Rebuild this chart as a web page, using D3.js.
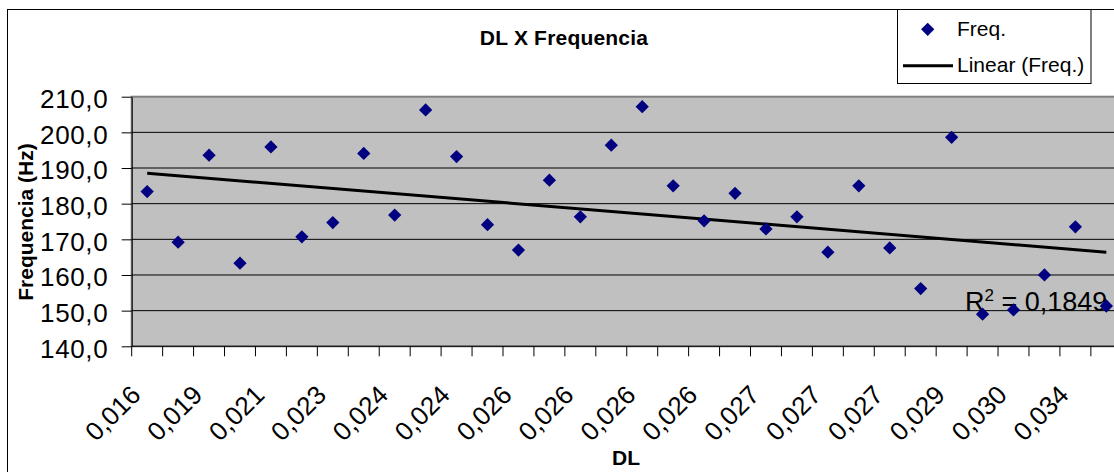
<!DOCTYPE html>
<html>
<head>
<meta charset="utf-8">
<script src="https://cdn.jsdelivr.net/npm/d3@7"></script>
<style>
body { margin: 0; background: #fff; }
text { font-family: "Liberation Sans", Arial, sans-serif; fill: #000; }
</style>
</head>
<body>
<svg id="chart" width="1114" height="472"></svg>
<script>
// DL values per point (only every other one is printed on the axis)
var categories = ["0,016","0,018","0,019","0,020","0,021","0,022","0,023","0,023",
  "0,024","0,024","0,024","0,025","0,026","0,026","0,026","0,026",
  "0,026","0,026","0,026","0,026","0,027","0,027","0,027","0,027",
  "0,027","0,028","0,029","0,029","0,030","0,031","0,034","0,036"];
var freq = [183.4, 169.2, 193.6, 163.3, 195.9, 170.7, 174.7, 194.1,
  176.8, 206.3, 193.2, 174.1, 167.0, 186.6, 176.3, 196.4,
  207.2, 185.0, 175.2, 182.9, 172.9, 176.3, 166.4, 185.0,
  167.6, 156.2, 198.6, 149.0, 150.2, 160.0, 173.5, 151.3];
var yTicks = [140, 150, 160, 170, 180, 190, 200, 210];
var chartTitle = "DL X Frequencia";
var xTitle = "DL";
var yTitle = "Frequencia (Hz)";
var seriesName = "Freq.";
var trendName = "Linear (Freq.)";
var r2Label = "0,1849";

var svg = d3.select("#chart");
var plot = {left: 131.7, top: 96.7, right: 1121.8, bottom: 346.3};

var x = d3.scaleBand().domain(d3.range(categories.length)).range([plot.left, plot.right]);
var y = d3.scaleLinear().domain([140, 210]).range([plot.bottom, plot.top]);
var bw = x.bandwidth();
var cx = function(i) { return x(i) + bw / 2; };
var comma = function(v) { return d3.format(".1f")(v).replace(".", ","); };

// chart area border
svg.append("rect")
  .attr("x", 7.5).attr("y", 9.5)
  .attr("width", 1300).attr("height", 600)
  .attr("fill", "#fff").attr("stroke", "#000").attr("stroke-width", 1);

// plot area
svg.append("rect")
  .attr("x", plot.left).attr("y", plot.top)
  .attr("width", plot.right - plot.left).attr("height", plot.bottom - plot.top)
  .attr("fill", "#c0c0c0").attr("stroke", "#808080").attr("stroke-width", 2);

// gridlines
svg.append("g").selectAll("line")
  .data(yTicks.slice(1, -1))
  .enter().append("line")
  .attr("x1", plot.left).attr("x2", plot.right)
  .attr("y1", function(d) { return y(d); })
  .attr("y2", function(d) { return y(d); })
  .attr("stroke", "#000").attr("stroke-width", 1);

// y axis
var yAxis = d3.axisLeft(y)
  .tickValues(yTicks)
  .tickSize(10)
  .tickSizeOuter(0)
  .tickPadding(13.5)
  .tickFormat(comma);

var gy = svg.append("g")
  .attr("transform", "translate(" + plot.left + ",0)")
  .call(yAxis);
gy.select(".domain").attr("stroke", "#000");
gy.selectAll(".tick line").attr("stroke", "#000");
gy.selectAll(".tick text")
  .attr("font-family", "Liberation Sans, Arial, sans-serif")
  .attr("font-size", "26px")
  .attr("letter-spacing", "0.6px")
  .attr("dy", "0.42em")
  .attr("fill", "#000");

// x axis line + tick marks at category boundaries
svg.append("line")
  .attr("x1", plot.left).attr("x2", plot.right)
  .attr("y1", plot.bottom).attr("y2", plot.bottom)
  .attr("stroke", "#000").attr("stroke-width", 1);

svg.append("g").selectAll("line")
  .data(d3.range(categories.length + 1))
  .enter().append("line")
  .attr("x1", function(i) { return plot.left + i * bw; })
  .attr("x2", function(i) { return plot.left + i * bw; })
  .attr("y1", plot.bottom).attr("y2", plot.bottom + 10)
  .attr("stroke", "#000").attr("stroke-width", 1);

// rotated category labels, every other one
svg.append("g").selectAll("text")
  .data(d3.range(0, categories.length, 2))
  .enter().append("text")
  .attr("transform", function(i) {
    return "translate(" + (cx(i) - 11.5) + ",390) rotate(-45)";
  })
  .attr("text-anchor", "end")
  .attr("dy", "0.35em")
  .attr("font-size", "26px")
  .text(function(i) { return categories[i]; });

// linear trendline (least squares on point index)
var xs = d3.range(1, freq.length + 1);
var mx = d3.mean(xs), my = d3.mean(freq);
var sxy = d3.sum(xs, function(v, i) { return (v - mx) * (freq[i] - my); });
var sxx = d3.sum(xs, function(v) { return (v - mx) * (v - mx); });
var slope = sxy / sxx;
var icpt = my - slope * mx;

var line = d3.line()
  .x(function(i) { return cx(i); })
  .y(function(i) { return y(icpt + slope * (i + 1)); });

svg.append("path")
  .datum([0, freq.length - 1])
  .attr("d", line)
  .attr("fill", "none")
  .attr("stroke", "#000")
  .attr("stroke-width", 3);

// R squared label
var r2 = svg.append("text")
  .attr("x", 965).attr("y", 310.7)
  .attr("font-size", "27px");
r2.append("tspan").text("R");
r2.append("tspan").attr("font-size", "17px").attr("dy", -10).text("2");
r2.append("tspan").attr("dy", 10).text(" = " + r2Label);

// points
var diamond = d3.symbol().type(d3.symbolSquare).size(88);
svg.append("g").selectAll("path")
  .data(freq)
  .enter().append("path")
  .attr("d", diamond)
  .attr("transform", function(d, i) {
    return "translate(" + cx(i) + "," + y(d) + ") rotate(45)";
  })
  .attr("fill", "#000080");

// titles
svg.append("text")
  .attr("x", 564).attr("y", 45)
  .attr("text-anchor", "middle")
  .attr("font-size", "21px")
  .attr("font-weight", "bold")
  .attr("letter-spacing", "0.2px")
  .text(chartTitle);

svg.append("text")
  .attr("x", 626).attr("y", 465)
  .attr("text-anchor", "middle")
  .attr("font-size", "21px")
  .attr("font-weight", "bold")
  .text(xTitle);

svg.append("text")
  .attr("transform", "translate(33,222) rotate(-90)")
  .attr("text-anchor", "middle")
  .attr("font-size", "21px")
  .attr("font-weight", "bold")
  .text(yTitle);

// legend
var lg = svg.append("g");
lg.append("rect")
  .attr("x", 897.5).attr("y", 9.5)
  .attr("width", 193.5).attr("height", 74)
  .attr("fill", "#fff").attr("stroke", "#000").attr("stroke-width", 1);
lg.append("path")
  .attr("d", diamond)
  .attr("transform", "translate(927.7,29.3) rotate(45)")
  .attr("fill", "#000080");
lg.append("text")
  .attr("x", 957).attr("y", 35.5)
  .attr("font-size", "21px")
  .text(seriesName);
lg.append("line")
  .attr("x1", 903).attr("x2", 953)
  .attr("y1", 65.7).attr("y2", 65.7)
  .attr("stroke", "#000").attr("stroke-width", 3);
lg.append("text")
  .attr("x", 957).attr("y", 72)
  .attr("font-size", "21px")
  .text(trendName);
</script>
</body>
</html>
